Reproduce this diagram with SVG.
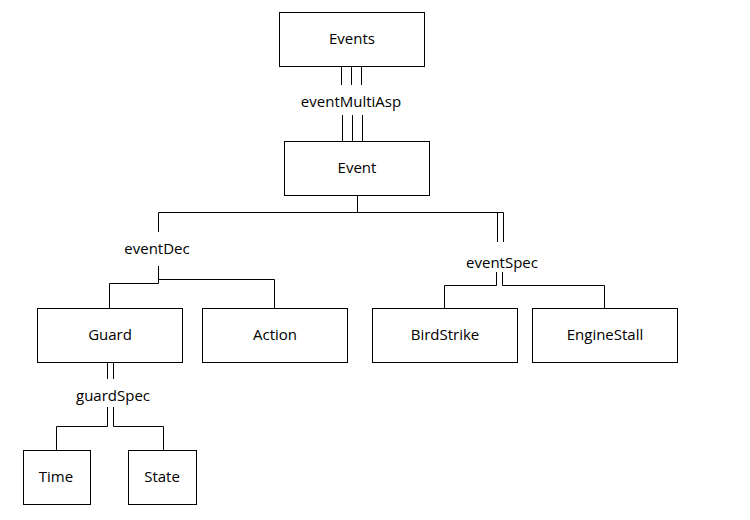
<svg xmlns="http://www.w3.org/2000/svg" width="750" height="520" viewBox="0 0 750 520">
<style>
.box{fill:#fff;stroke:#000;stroke-width:1}
.t{font-family:"Open Sans","Liberation Sans",sans-serif;font-size:15px;fill:#000;text-anchor:middle;dominant-baseline:central}
.c{fill:none;stroke:#000;stroke-width:1}
</style>
<rect width="750" height="520" fill="#fff"/>
<g id="connectors">
<path class="c" d="M341.5 66V85M351.5 66V85M361.5 66V85"/>
<path class="c" d="M342.5 115V141M352.5 115V141M362.5 115V141"/>
<path class="c" d="M357.5 195V212.5H158.5V232"/>
<path class="c" d="M158.5 266V283.5H109.5V308M158.5 279.5H274.5V308"/>
<path class="c" d="M357.5 212.5H503.5V242M497.5 212.5V242"/>
<path class="c" d="M496.5 272V285.5H444.5V308M502.5 272V285.5H604.5V308"/>
<path class="c" d="M107.5 362V379M113.5 362V379"/>
<path class="c" d="M107.5 407V426.5H56.5V450M113.5 407V426.5H163.5V450"/>
<text class="t" x="351" y="101">eventMultiAsp</text>
<text class="t" x="157" y="248">eventDec</text>
<text class="t" x="502" y="262">eventSpec</text>
<text class="t" x="113" y="395">guardSpec</text>
</g>
<g id="Events"><rect class="box" x="279.5" y="12.5" width="145" height="54"/><text class="t" x="352" y="38">Events</text></g>
<g id="Event"><rect class="box" x="284.5" y="141.5" width="145" height="54"/><text class="t" x="357" y="167">Event</text></g>
<g id="Guard"><rect class="box" x="37.5" y="308.5" width="145" height="54"/><text class="t" x="110" y="334">Guard</text></g>
<g id="Action"><rect class="box" x="202.5" y="308.5" width="145" height="54"/><text class="t" x="275" y="334">Action</text></g>
<g id="BirdStrike"><rect class="box" x="372.5" y="308.5" width="145" height="54"/><text class="t" x="445" y="334">BirdStrike</text></g>
<g id="EngineStall"><rect class="box" x="532.5" y="308.5" width="145" height="54"/><text class="t" x="605" y="334">EngineStall</text></g>
<g id="Time"><rect class="box" x="23.5" y="450.5" width="67" height="54"/><text class="t" x="56" y="476">Time</text></g>
<g id="State"><rect class="box" x="128.5" y="450.5" width="68" height="54"/><text class="t" x="162" y="476">State</text></g>
</svg>
